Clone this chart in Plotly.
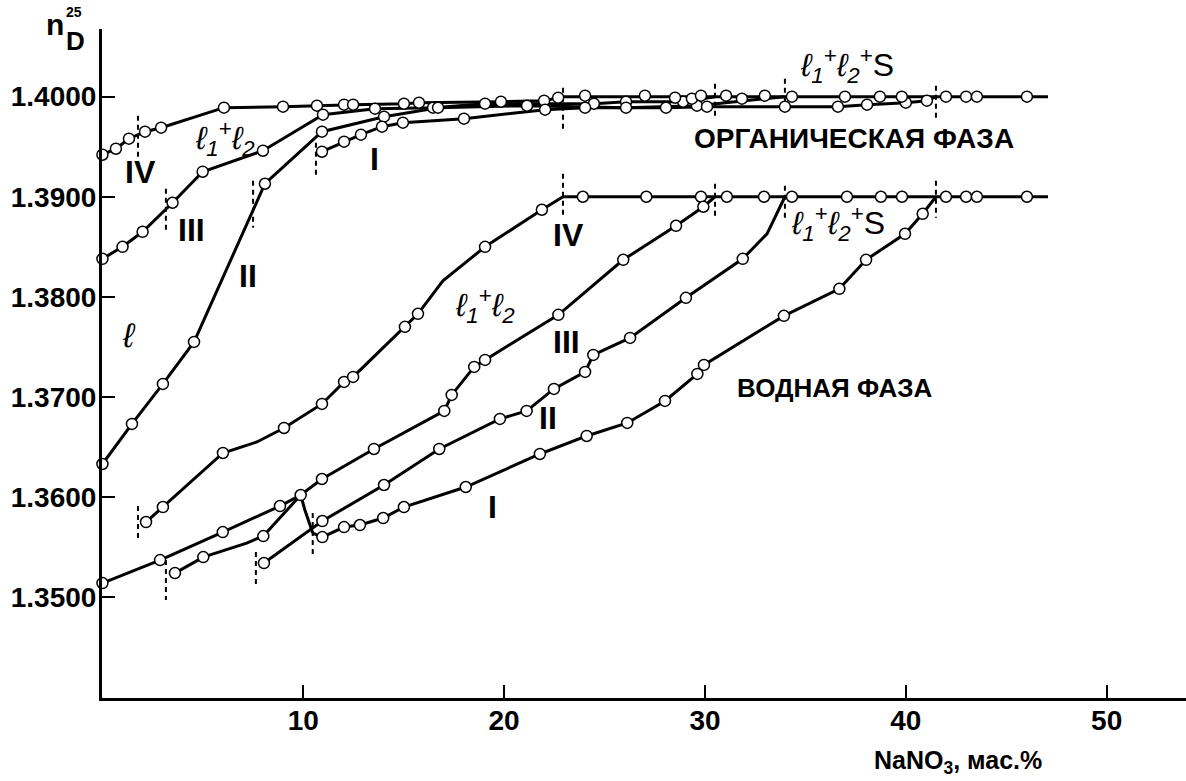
import plotly.graph_objects as go

# ---------------- data (x = NaNO3, wt.%; y = refractive index n_D^25) ----------------
# Organic phase curves (circles = measured points, *_bx/*_by = line vertices without circle)
org_IV_x = [0, 0.67, 1.32, 2.12, 2.92, 6.05, 8.99, 10.68, 12.03, 12.48, 15.01, 15.76, 19.84, 21.99, 22.69]
org_IV_y = [1.3942, 1.3948, 1.3958, 1.3965, 1.3969, 1.3989, 1.3990, 1.3991, 1.3992, 1.3992, 1.3993, 1.3994, 1.3995, 1.3996, 1.3999]
org_IV_bx = [22.93]
org_IV_by = [1.4000]

org_III_x = [0, 1.0, 2.0, 3.49, 4.99, 7.99, 10.98, 13.57, 16.46, 19.05, 24.47, 26.07, 28.91]
org_III_y = [1.3838, 1.3850, 1.3865, 1.3894, 1.3925, 1.3946, 1.3982, 1.3988, 1.3989, 1.3993, 1.3993, 1.3995, 1.3995]
org_III_bx = [30.5]
org_III_by = [1.4000]

org_II_x = [0, 1.47, 3.01, 4.56, 8.09, 10.93, 14.02, 16.71, 21.14, 26.07, 29.6]
org_II_y = [1.3633, 1.3673, 1.3713, 1.3755, 1.3913, 1.3965, 1.3980, 1.3989, 1.3991, 1.3989, 1.3991]
org_II_bx = [33.98]
org_II_by = [1.4000]

org_I_x = [10.93, 12.03, 12.87, 13.92, 14.96, 18.0, 22.04, 24.03, 28.06, 30.1, 33.98, 36.62, 38.07, 40.0, 41.05]
org_I_y = [1.3945, 1.3955, 1.3962, 1.3970, 1.3974, 1.3978, 1.3987, 1.3989, 1.3989, 1.3990, 1.3990, 1.3990, 1.3992, 1.3994, 1.3996]
org_I_bx = [41.5]
org_I_by = [1.4000]

org_S_bx = [22.93, 47.08]
org_S_by = [1.4000, 1.4000]
org_S_x = [24.03, 27.01, 28.51, 29.35, 29.8, 31.05, 31.84, 32.98, 34.33, 36.97, 38.71, 39.8, 42.0, 43.0, 43.54, 46.03]
org_S_y = [1.4001, 1.4001, 1.3999, 1.3998, 1.4001, 1.4001, 1.3998, 1.4001, 1.4000, 1.4000, 1.4000, 1.4000, 1.4000, 1.4000, 1.4000, 1.4000]

# Aqueous phase curves
aq_S_bx = [22.93, 47.08]
aq_S_by = [1.3900, 1.3900]
aq_S_x = [23.92, 27.08, 29.8, 31.09, 32.94, 34.33, 37.07, 38.76, 39.81, 42.0, 43.0, 43.54, 46.03]
aq_S_y = [1.3900] * 13

aq_IV_x = [2.17, 3.01, 6.0, 9.04, 10.93, 12.03, 12.48, 15.06, 15.71, 19.05, 21.88]
aq_IV_y = [1.3575, 1.3590, 1.3644, 1.3669, 1.3693, 1.3715, 1.3720, 1.3770, 1.3783, 1.3850, 1.3887]
aq_IV_bx = [7.69, 16.95, 22.93]
aq_IV_by = [1.3655, 1.3816, 1.3900]

aq_III_x = [0, 2.87, 5.99, 8.84, 9.87, 10.93, 13.52, 17.02, 17.39, 18.51, 19.05, 22.7, 25.93, 28.56, 29.92]
aq_III_y = [1.3514, 1.3537, 1.3565, 1.3591, 1.3602, 1.3618, 1.3648, 1.3686, 1.3702, 1.3730, 1.3737, 1.3782, 1.3837, 1.3871, 1.3890]
aq_III_bx = [30.5]
aq_III_by = [1.3900]

aq_IIIb_x = [3.61, 5.02, 8.01]
aq_IIIb_y = [1.3524, 1.3540, 1.3561]
aq_IIIb_bx = [7.18, 9.87]
aq_IIIb_by = [1.3554, 1.3602]

aq_drop_bx = [9.87, 10.08, 10.47]
aq_drop_by = [1.3602, 1.3587, 1.3564]

aq_II_x = [8.04, 10.95, 14.02, 16.77, 19.79, 21.12, 22.48, 24.03, 24.44, 26.27, 29.05, 31.88]
aq_II_y = [1.3534, 1.3576, 1.3612, 1.3648, 1.3678, 1.3686, 1.3708, 1.3725, 1.3742, 1.3759, 1.3799, 1.3838]
aq_II_bx = [33.09, 33.57, 33.98]
aq_II_by = [1.3863, 1.3883, 1.3900]

aq_I_x = [10.95, 12.03, 12.82, 13.98, 15.01, 18.09, 21.78, 24.11, 26.13, 28.01, 29.62, 29.95, 33.93, 36.69, 38.02, 39.96, 40.84]
aq_I_y = [1.3560, 1.3570, 1.3572, 1.3579, 1.3590, 1.3610, 1.3643, 1.3661, 1.3674, 1.3696, 1.3723, 1.3732, 1.3781, 1.3808, 1.3837, 1.3863, 1.3883]
aq_I_bx = [10.47, 41.5]
aq_I_by = [1.3564, 1.3900]

# Vertical dashed boundary marks: x, y from, y to
dash_x = [1.77, 3.16, 7.5, 10.63, 22.93, 30.5, 33.98, 41.5,
          22.93, 30.5, 33.98, 41.5, 1.77, 3.16, 7.64, 10.47]
dash_y0 = [1.3981, 1.3908, 1.3916, 1.3954, 1.4009, 1.4013, 1.4018, 1.4011,
           1.3923, 1.3913, 1.3911, 1.3916, 1.3591, 1.3537, 1.3545, 1.3584]
dash_y1 = [1.3936, 1.3863, 1.3869, 1.3922, 1.3968, 1.3978, 1.3988, 1.3978,
           1.3879, 1.3879, 1.3876, 1.3879, 1.3555, 1.3497, 1.3509, 1.3540]

x_ticks = [10, 20, 30, 40, 50]
y_ticks = [1.35, 1.36, 1.37, 1.38, 1.39, 1.40]
y_ticktext = ["1.3500", "1.3600", "1.3700", "1.3800", "1.3900", "1.4000"]

# ---------------- figure ----------------
W, H = 1186, 781
ML, MR, MT, MB = 102, 0, 29, 83
PW, PH = W - ML - MR, H - MT - MB

def merge(cx, cy, bx, by):
    pts = sorted(list(zip(cx, cy)) + list(zip(bx, by)), key=lambda p: p[0])
    return [p[0] for p in pts], [p[1] for p in pts]

curves = [
    (org_IV_x, org_IV_y, org_IV_bx, org_IV_by, False),
    (org_III_x, org_III_y, org_III_bx, org_III_by, False),
    (org_II_x, org_II_y, org_II_bx, org_II_by, False),
    (org_I_x, org_I_y, org_I_bx, org_I_by, False),
    (org_S_x, org_S_y, org_S_bx, org_S_by, True),
    (aq_S_x, aq_S_y, aq_S_bx, aq_S_by, True),
    (aq_IV_x, aq_IV_y, aq_IV_bx, aq_IV_by, False),
    (aq_III_x, aq_III_y, aq_III_bx, aq_III_by, False),
    (aq_IIIb_x, aq_IIIb_y, aq_IIIb_bx, aq_IIIb_by, False),
    ([], [], aq_drop_bx, aq_drop_by, False),
    (aq_II_x, aq_II_y, aq_II_bx, aq_II_by, False),
    (aq_I_x, aq_I_y, aq_I_bx, aq_I_by, False),
]

fig = go.Figure()

for cx, cy, bx, by, flat in curves:
    if flat:
        lx, ly = bx, by
    else:
        lx, ly = merge(cx, cy, bx, by)
    fig.add_trace(go.Scatter(x=lx, y=ly, mode="lines",
                             line=dict(color="black", width=3),
                             hoverinfo="skip", showlegend=False, cliponaxis=False))

dx, dy = [], []
for x, a, b in zip(dash_x, dash_y0, dash_y1):
    dx += [x, x, None]
    dy += [a, b, None]
fig.add_trace(go.Scatter(x=dx, y=dy, mode="lines",
                         line=dict(color="black", width=2, dash="5px,4px"),
                         hoverinfo="skip", showlegend=False, cliponaxis=False))

for cx, cy, bx, by, flat in curves:
    if not cx:
        continue
    fig.add_trace(go.Scatter(x=cx, y=cy, mode="markers",
                             marker=dict(symbol="circle", size=11, color="white",
                                         line=dict(color="black", width=1.5)),
                             hoverinfo="skip", showlegend=False, cliponaxis=False))

def P(px, py):
    return (px - ML) / PW, (H - MB - py) / PH

BF = "Liberation Sans, Arial, sans-serif"
ann = []

def label(text, px, py, size, bold=True, family=BF):
    x, y = P(px, py)
    ann.append(dict(text=text, x=x, y=y, xref="paper", yref="paper",
                    xanchor="center", yanchor="middle", showarrow=False,
                    font=dict(family=family, size=size, color="black",
                              weight="bold" if bold else "normal")))

L12 = "<i>ℓ</i><sub><i>1</i></sub><sup>+</sup><i>ℓ</i><sub><i>2</i></sub>"
L12S = L12 + "<sup>+</sup>S"

label("IV", 140, 172, 32)
label("III", 191, 230, 32)
label("II", 248, 276, 32)
label("I", 374, 159, 32)
label("<i>ℓ</i>", 129, 335, 34, bold=False)
label(L12, 225, 139, 32, bold=False)
label(L12S, 847, 65, 32, bold=False)
label("ОРГАНИЧЕСКАЯ ФАЗА", 854, 139, 28)
label("IV", 568, 235, 32)
label(L12, 485, 305, 32, bold=False)
label("III", 566, 342, 32)
label("II", 548, 418, 32)
label("I", 492, 507, 32)
label(L12S, 838, 224, 32, bold=False)
label("ВОДНАЯ ФАЗА", 835, 388, 26)
label("n", 55, 25, 30)
label("25", 74, 12, 14)
label("D", 75, 41, 26)
label("NaNO<sub>3</sub>, мас.%", 958, 762, 25)

fig.update_layout(
    width=W, height=H,
    margin=dict(l=ML, r=MR, t=MT, b=MB),
    paper_bgcolor="white", plot_bgcolor="white",
    annotations=ann,
    hovermode=False,
    xaxis=dict(range=[-0.022, 53.95], tickvals=x_ticks, ticks="inside", ticklen=13,
               tickwidth=2, tickcolor="black", showline=True, linewidth=3,
               linecolor="black", showgrid=False, zeroline=False,
               ticklabelstandoff=-5,
               tickfont=dict(family=BF, size=28, color="black", weight="bold")),
    yaxis=dict(range=[1.33992, 1.40676], tickvals=y_ticks, ticktext=y_ticktext,
               ticks="inside", ticklen=13, tickwidth=2, tickcolor="black",
               showline=True, linewidth=3, linecolor="black", showgrid=False,
               zeroline=False, ticklabelstandoff=-3,
               tickfont=dict(family=BF, size=28, color="black", weight="bold")),
)

fig.write_html("out.html", config={"displayModeBar": False},
               post_script="document.body.style.margin='0';document.body.style.overflow='hidden';")
